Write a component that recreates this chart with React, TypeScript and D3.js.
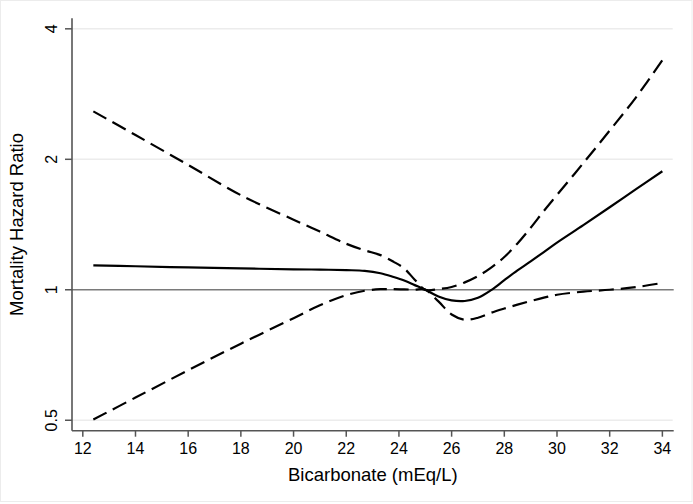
import React from "react";
import * as d3 from "d3";

const bicarb = [12.4, 14, 16, 18, 20, 21, 22, 22.7, 23.3, 23.8, 24.2, 24.6, 25, 25.5, 26, 26.5, 27, 27.5, 28, 28.5, 29, 29.5, 30, 31, 32, 33, 34];
const hrEstimate = [1.139, 1.133, 1.126, 1.12, 1.115, 1.113, 1.11, 1.106, 1.092, 1.07, 1.05, 1.025, 1.0, 0.965, 0.945, 0.942, 0.958, 0.998, 1.052, 1.108, 1.163, 1.222, 1.285, 1.41, 1.55, 1.707, 1.877];
const hrUpper = [2.58, 2.275, 1.941, 1.653, 1.451, 1.362, 1.277, 1.233, 1.202, 1.16, 1.12, 1.055, 1.0, 1.004, 1.015, 1.04, 1.075, 1.125, 1.19, 1.279, 1.39, 1.52, 1.655, 1.96, 2.33, 2.78, 3.387];
const hrLower = [0.502, 0.564, 0.652, 0.751, 0.86, 0.921, 0.972, 0.995, 1.003, 1.003, 1.002, 1.001, 1.0, 0.94, 0.877, 0.853, 0.862, 0.885, 0.905, 0.924, 0.942, 0.959, 0.974, 0.99, 1.0, 1.014, 1.037];

const xTicks = [12, 14, 16, 18, 20, 22, 24, 26, 28, 30, 32, 34];
const yTicks = [0.5, 1, 2, 4];
const yTickLabels = ["0.5", "1", "2", "4"];
const xDomain = [11.59, 34.43];
const yDomain = [0.473, 4.23];

const W = 693;
const H = 504;
const L = 72;
const R = 673.7;
const T = 18.3;
const B = 430.7;
const FONT = "'Liberation Sans', Arial, Helvetica, sans-serif";

export default function App() {
  const x = d3.scaleLinear().domain(xDomain).range([L, R]);
  const y = d3.scaleLog().base(2).domain(yDomain).range([B, T]);
  const line = (vals: number[]) =>
    d3
      .line<number>()
      .x((_, i) => x(bicarb[i]))
      .y((v) => y(v))
      .curve(d3.curveCatmullRom.alpha(0.5))(vals) || "";

  return (
    <svg
      width={W}
      height={H}
      style={{ position: "absolute", left: 0, top: 0, background: "#fff" }}
      fontFamily={FONT}
    >
      <rect x={0.5} y={0.5} width={W - 1.5} height={H - 3} fill="#fff" stroke="#ececec" strokeWidth={1} />
      {yTicks.map((t) =>
        t === 1 ? null : (
          <line key={"g" + t} x1={L} x2={R - 1} y1={y(t)} y2={y(t)} stroke="#ececec" strokeWidth={1.5} />
        )
      )}
      <line x1={L} x2={R} y1={y(1)} y2={y(1)} stroke="#7a7a7a" strokeWidth={1.6} />
      <line x1={L} x2={L} y1={T} y2={B} stroke="#555" strokeWidth={1.6} />
      <line x1={L} x2={R} y1={B} y2={B} stroke="#555" strokeWidth={1.6} />
      {yTicks.map((t, i) => (
        <g key={"yt" + t}>
          <line x1={L - 7} x2={L} y1={y(t)} y2={y(t)} stroke="#555" strokeWidth={1.5} />
          <text
            transform={`translate(${L - 15},${y(t)}) rotate(-90)`}
            textAnchor="middle"
            fontSize={16}
            fill="#000"
          >
            {yTickLabels[i]}
          </text>
        </g>
      ))}
      {xTicks.map((t) => (
        <g key={"xt" + t}>
          <line x1={x(t)} x2={x(t)} y1={B} y2={B + 6} stroke="#555" strokeWidth={1.5} />
          <text x={x(t)} y={B + 23.5} textAnchor="middle" fontSize={16} fill="#000">
            {t}
          </text>
        </g>
      ))}
      <text x={(L + R) / 2} y={481} textAnchor="middle" fontSize={18.5} fill="#000">
        Bicarbonate (mEq/L)
      </text>
      <text
        transform={`translate(23,${(T + B) / 2}) rotate(-90)`}
        textAnchor="middle"
        fontSize={18.5}
        fill="#000"
      >
        Mortality Hazard Ratio
      </text>
      <path d={line(hrUpper)} fill="none" stroke="#000" strokeWidth={2.2} strokeDasharray="15,7" />
      <path d={line(hrLower)} fill="none" stroke="#000" strokeWidth={2.2} strokeDasharray="15,7" />
      <path d={line(hrEstimate)} fill="none" stroke="#000" strokeWidth={2.2} />
    </svg>
  );
}
